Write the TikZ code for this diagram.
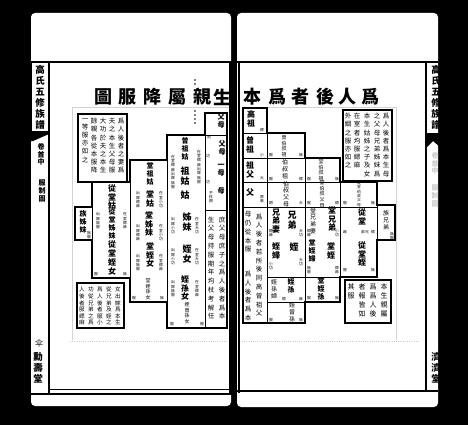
\documentclass[tikz,border=0pt]{standalone}
\usepackage{fontspec}
\newfontfamily\cjk{Noto Sans CJK TC}
\makeatletter
\newcommand\vt[1]{\vt@a#1\relax}
\def\vt@a#1{#1\vt@b}
\def\vt@b#1{\ifx#1\relax\else\\#1\expandafter\vt@b\fi}
\makeatother
\tikzset{
 vA/.style={inner sep=0pt,align=center,font=\cjk\bfseries\fontsize{9}{9.8}\selectfont},
 vB/.style={inner sep=0pt,align=center,font=\cjk\bfseries\fontsize{8}{8.8}\selectfont},
 vC/.style={inner sep=0pt,align=center,font=\cjk\bfseries\fontsize{7}{7.8}\selectfont},
 vD/.style={inner sep=0pt,align=center,font=\cjk\fontsize{6}{6.8}\selectfont},
 vE/.style={inner sep=0pt,align=center,font=\cjk\fontsize{5}{5.6}\selectfont},
 vT/.style={inner sep=0pt,align=center,font=\cjk\fontsize{3.8}{4.3}\selectfont},
 vN/.style={inner sep=0pt,align=center,font=\cjk\fontsize{6.5}{8.8}\selectfont},
 vX/.style={inner sep=0pt,align=center,anchor=north,font=\cjk\fontsize{6.5}{8.2}\selectfont},
 vY/.style={inner sep=0pt,align=center,anchor=north,font=\cjk\fontsize{5.6}{6.6}\selectfont},
 vZ/.style={inner sep=0pt,align=center,anchor=north,font=\cjk\fontsize{7}{9.3}\selectfont},
 vS/.style={inner sep=0pt,align=center,anchor=north,font=\cjk\bfseries\fontsize{9.5}{11}\selectfont},
 ttl/.style={inner sep=0pt,font=\cjk\bfseries\fontsize{18}{18}\selectfont},
 outl/.style={line width=1.6pt,line join=miter},
 thinl/.style={line width=0.45pt},
 faint/.style={gray!35,line width=0.5pt},
}
\newcommand\V[3]{\node[#1] at (#2) {\vt{#3}};}
\begin{document}
\begin{tikzpicture}[x=1pt,y=-1pt]
\useasboundingbox (0,0) rectangle (468,425);
\fill[black] (0,0) rectangle (468,425);
% pages
\fill[white,rounded corners=4pt] (31,13) rectangle (231,406);
\fill[white,rounded corners=4pt] (237,13) rectangle (438,407);
% frames left page
\draw[line width=2.6pt] (31,62) -- (232,62);
\draw[line width=2.2pt] (31,394) -- (232,394);
\draw[line width=0.5pt] (49,389) -- (230,389);
\draw[line width=1.2pt] (49,62) -- (49,394);
\draw[line width=2.6pt] (230.5,62) -- (230.5,395);
% frames right page
\draw[line width=2.6pt] (237,62) -- (438,62);
\draw[line width=2.6pt] (239,62) -- (239,393);
\draw[line width=2pt] (237,391) -- (438,391);
\draw[line width=1.2pt] (426,62) -- (426,391);
% faint frames and dotted line
\draw[faint] (72,340) -- (72,107) -- (229,107);
\draw[faint] (243,107) -- (396,107) -- (396,340);
\draw[gray!40,line width=0.7pt,dash pattern=on 1pt off 1.2pt] (70,341) -- (228,341);
\draw[gray!40,line width=0.7pt,dash pattern=on 1pt off 1.2pt] (242,341) -- (420,341);

% ---------------- title
\foreach \x/\c in {103/圖,127/服,152/降,177/屬,202/親,222/生,252/本,277/爲,300/者,325/後,347/人,370/爲}
  \node[ttl] at (\x,97) {\c};
\foreach \y in {80,84,111,115,119,123} \fill (195,\y) circle (0.8);

% ---------------- left spine
\draw[line width=1pt] (31,62) rectangle (49,132);
\V{vS}{40,65}{高氏五修族譜}
\fill (31,131) -- (49,131) -- (49,134) -- (33,141) -- (31,141) -- cycle;
\V{vC,anchor=north}{41,143}{卷首中}
\V{vC,anchor=north}{42,180}{服制圖}
\node[inner sep=0pt,font=\cjk\fontsize{8}{8}\selectfont] at (39,343) {伞};
\fill (27,350) rectangle (31,392);
\V{vS}{38,352}{勳壽堂}

% ---------------- right spine
\begin{scope}
\clip (427,62) rectangle (440,391);
\V{vS}{436,65}{高氏五修族譜}
\fill (427,133) -- (440,133) -- (440,147) -- (433,141) -- (427,147) -- cycle;
\V{vC,anchor=north,text=gray!40}{435,152}{卷首中}
\V{vC,anchor=north,text=gray!40}{435,185}{服制圖}
\V{vS}{436,352}{濟濟堂}
\end{scope}

% ================= LEFT DIAGRAM
\draw[outl] (205,113) -- (227,113) -- (227,328) -- (167,328) -- (167,302) -- (130,302) -- (130,278) -- (92,278) -- (92,240) -- (75,240) -- (75,207) -- (92,207) -- (92,182) -- (130,182) -- (130,160) -- (167,160) -- (167,135) -- (205,135) -- cycle;
\draw[thinl] (205,135) -- (205,328);
\draw[thinl] (167,160) -- (167,302);
\draw[thinl] (130,182) -- (130,278);
\draw[thinl] (92,207) -- (92,240);
\draw[thinl] (205,135) -- (227,135);
\draw[thinl] (205,210) -- (227,210);
% col A
\V{vC}{221,121}{父母}
\V{vC}{222,148}{父母}
\V{vC}{221,170}{一母}
\V{vC}{221,191}{母}
\V{vN}{222,268}{庶父母庶子之爲人後者爲本}
\V{vN}{211,268}{生父母持服期年均杖考解任}
\V{vT}{209,137}{出}
\V{vT}{208,156}{功}
\V{vT}{208,182}{功}
\V{vT}{211,197}{不杖期}
% col B
\V{vC}{185,149}{曾祖姑}
\V{vA}{185,176}{祖姑}
\V{vA}{185,195}{姑}
\V{vA}{187,222}{姊妹}
\V{vA}{187,254}{姪女}
\V{vB}{185,288}{姪孫女}
\V{vE}{187,313}{姪曾孫女}
\V{vT}{199,167}{在室緦麻出嫁無服}
\V{vT}{173,172}{在室緦麻出嫁無服}
\V{vT}{197,226}{在室大功}
\V{vT}{173,226}{出嫁小功}
\V{vT}{197,257}{在室大功}
\V{vT}{173,257}{出嫁小功}
\V{vT}{197,289}{在室緦麻}
\V{vT}{173,289}{出嫁無服}
\V{vT}{172,324}{服}
\V{vT}{202,324}{服}
% col C
\V{vC}{150,174}{堂祖姑}
\V{vB}{150,199}{堂姑}
\V{vB}{149,224}{堂姊妹}
\V{vB}{150,255}{堂姪女}
\V{vE}{148,289}{堂姪孫女}
\V{vT}{161,200}{在室小功}
\V{vT}{138,200}{出嫁緦麻}
\V{vT}{161,233}{在室小功}
\V{vT}{138,233}{出嫁緦麻}
\V{vT}{161,263}{在室緦麻}
\V{vT}{138,263}{出嫁無服}
\V{vT}{162,298}{無}
\V{vT}{134,298}{服}
% col D
\V{vB}{112,197}{從堂姑}
\V{vC}{112,224}{從堂姊妹}
\V{vB}{112,258}{從堂姪女}
\V{vT}{125,221}{在室緦麻}
\V{vT}{98,221}{出嫁無服}
\V{vT}{125,274}{無}
\V{vT}{96,274}{服}
% clan sisters
\V{vC}{83,222}{族姊妹}
\V{vT}{89,235}{無服}
% boxes
\draw[line width=1.2pt] (78,114) rectangle (127,182);
\V{vX}{121,118}{爲人後者之妻爲}
\V{vX}{112,118}{夫之本生父母服}
\V{vX}{103,118}{大功於夫之本生}
\V{vX}{94,118}{餘親各從本服降}
\V{vX}{85,118}{一等服亦如之}
\draw[line width=1.2pt] (77,283) rectangle (124,328);
\V{vY}{118,287}{女出嫁爲本生}
\V{vY}{109,287}{從兄弟及姪之}
\V{vY}{100,287}{爲人後者服小}
\V{vY}{91,287}{功從兄弟之爲}
\V{vY}{82,287}{人後者服緦麻}

% ================= RIGHT DIAGRAM
\draw[outl] (243,108) -- (267,108) -- (267,133) -- (305,133) -- (305,158) -- (340,158) -- (340,182) -- (377,182) -- (377,205) -- (395,205) -- (395,240) -- (377,240) -- (377,277) -- (340,277) -- (340,302) -- (305,302) -- (305,323) -- (243,323) -- cycle;
\draw[thinl] (267,133) -- (267,323);
\draw[thinl] (305,158) -- (305,302);
\draw[thinl] (340,182) -- (340,277);
\draw[thinl] (377,205) -- (377,240);
\draw[thinl] (243,133) -- (267,133);
\draw[thinl] (243,158) -- (305,158);
\draw[thinl] (243,182) -- (340,182);
\draw[thinl] (243,207) -- (377,207);
\draw[thinl] (267,277) -- (340,277);
\draw[thinl] (267,302) -- (305,302);
% col 1
\V{vB}{251,119}{高祖}
\V{vB}{250,145}{曾祖}
\V{vB}{250,170}{祖父}
\V{vB}{250,192}{父}
\V{vT}{262,130}{緦}
\V{vT}{262,155}{小}
\V{vT}{262,178}{大}
\V{vT}{262,199}{齊衰}
\V{vN}{259,265}{爲人後者若所後同高曾祖父}
\V{vN}{248,232}{母仍從本服}
\V{vN}{248,296}{爲人後者爲本}
% col 2
\V{vE}{284,146}{曾伯叔祖}
\V{vD}{285,169}{伯叔祖}
\V{vD}{286,194}{伯叔父母}
\V{vA}{292,220}{兄弟}
\V{vB}{276,221}{兄弟妻}
\V{vA}{294,247}{姪}
\V{vB}{276,251}{姪婦}
\V{vC}{291,286}{姪孫}
\V{vD}{274,289}{姪孫婦}
\V{vD}{292,312}{姪曾孫}
\V{vT}{271,155}{服}
\V{vT}{301,155}{無}
\V{vT}{271,179}{服}
\V{vT}{301,179}{緦}
\V{vT}{271,203}{期}
\V{vT}{301,203}{大}
\V{vT}{271,233}{緦麻}
\V{vT}{301,233}{大功}
\V{vT}{271,266}{小功}
\V{vT}{301,262}{大功}
\V{vT}{284,299}{緦}
\V{vT}{301,299}{麻}
\V{vT}{271,320}{服}
\V{vT}{301,320}{無}
% col 3
\V{vE}{321,170}{堂伯叔祖}
\V{vE}{322,194}{堂伯叔父母}
\V{vB}{332,219}{堂兄弟}
\V{vD}{313,221}{堂兄弟妻}
\V{vB}{331,251}{堂姪}
\V{vC}{312,251}{堂姪婦}
\V{vC}{321,289}{堂姪孫}
\V{vT}{309,179}{服}
\V{vT}{337,179}{無}
\V{vT}{309,203}{服}
\V{vT}{337,203}{緦}
\V{vT}{309,233}{緦麻}
\V{vT}{337,233}{小功}
\V{vT}{309,270}{無服}
\V{vT}{337,270}{緦麻}
\V{vT}{309,298}{服}
\V{vT}{337,298}{無}
% col 4
\V{vT}{359,194}{從堂伯叔父母}
\V{vB}{362,217}{從堂}
\node[vT] at (365,232) {弟兄};
\V{vB}{362,254}{從堂姪}
\V{vT}{345,203}{服}
\V{vT}{373,203}{無}
\V{vT}{345,232}{麻}
\V{vT}{373,232}{緦}
\V{vT}{345,270}{服}
\V{vT}{373,270}{無}
% clan brothers
\V{vD}{386,220}{族兄弟}
\V{vT}{392,236}{無服}
% boxes
\draw[line width=1.2pt] (343,110) rectangle (392,181);
\V{vX}{386,113}{爲人後者爲本生母}
\V{vX}{377,113}{之父母兄弟姊妹爲}
\V{vX}{367,113}{本生姑姊之子及女}
\V{vX}{357,113}{在室者均服緦麻}
\V{vX}{348,113}{外姻之服亦如之}
\draw[line width=1.2pt] (345,280) rectangle (391,323);
\V{vZ}{384,283}{本生親屬}
\V{vZ}{373,283}{爲爲人後}
\V{vZ}{362,283}{者報皆如}
\V{vZ}{351,283}{其服}
\end{tikzpicture}
\end{document}
